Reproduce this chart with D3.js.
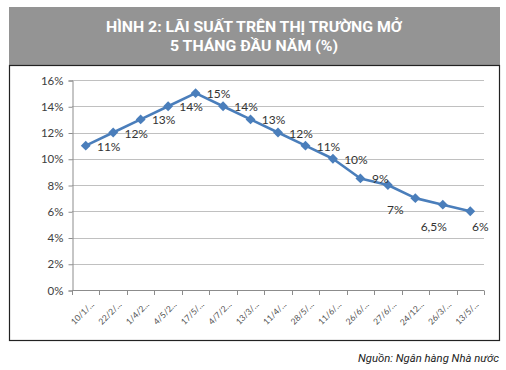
<!DOCTYPE html>
<html>
<head>
<meta charset="utf-8">
<script src="https://cdn.jsdelivr.net/npm/d3@7"></script>
<style>
  body { margin: 0; background: #fff; }
  svg { display: block; }
</style>
</head>
<body>
<div id="chart"></div>
<script>
// categories as printed on the x axis (truncated in the source)
var categories = ["10/1/...", "22/2/...", "1/4/2...", "4/5/2...", "17/5/...", "4/7/2...", "13/3/...",
  "11/4/...", "28/5/...", "11/6/...", "26/6/...", "27/6/...", "24/12...", "26/3/...", "13/5/..."];
// interest rate, %
var rates = [11, 12, 13, 14, 15, 14, 13, 12, 11, 10, 8.5, 8, 7, 6.5, 6];
// data labels as printed (one point has none)
var pointLabels = ["11%", "12%", "13%", "14%", "15%", "14%", "13%", "12%", "11%", "10%", "9%", "", "7%", "6,5%", "6%"];
var yTicks = [0, 2, 4, 6, 8, 10, 12, 14, 16];

var W = 506, H = 370;
var svg = d3.select("#chart").append("svg").attr("width", W).attr("height", H);

// header band
svg.append("rect").attr("x", 9).attr("y", 7).attr("width", 491).attr("height", 58).attr("fill", "#949494");
svg.append("text").text("HÌNH 2: LÃI SUẤT TRÊN THỊ TRƯỜNG MỞ")
  .attr("x", 254).attr("y", 32).attr("text-anchor", "middle")
  .attr("font-family", "Roboto").attr("font-weight", "bold").attr("font-size", 14)
  .attr("textLength", 296).attr("lengthAdjust", "spacingAndGlyphs")
  .attr("fill", "white");
svg.append("text").text("5 THÁNG ĐẦU NĂM (%)")
  .attr("x", 254).attr("y", 51).attr("text-anchor", "middle")
  .attr("font-family", "Roboto").attr("font-weight", "bold").attr("font-size", 14)
  .attr("textLength", 168).attr("lengthAdjust", "spacingAndGlyphs")
  .attr("fill", "white");

// chart frame
svg.append("rect").attr("x", 9.5).attr("y", 65.5).attr("width", 490).attr("height", 275)
  .attr("fill", "white").attr("stroke", "#222").attr("stroke-width", 1.2);

var x = d3.scaleBand().domain(categories).range([72, 484]);
var y = d3.scaleLinear().domain([0, 16]).range([290, 80]);

// gridlines
svg.append("g").selectAll("line").data(yTicks.slice(1)).enter().append("line")
  .attr("x1", 72).attr("x2", 484)
  .attr("y1", d => Math.round(y(d)) + 0.5).attr("y2", d => Math.round(y(d)) + 0.5)
  .attr("stroke", "#c0c0c0").attr("stroke-width", 1);

// y axis
var yAxis = svg.append("g").attr("transform", "translate(72.5,0.5)")
  .call(d3.axisLeft(y).tickValues(yTicks).tickSize(4).tickFormat(d => d + "%"));
yAxis.select(".domain").attr("stroke", "#8c8c8c");
yAxis.selectAll(".tick line").attr("stroke", "#8c8c8c");
yAxis.selectAll(".tick text").attr("font-family", "Lato").attr("font-size", 11.5)
  .attr("fill", "#404040").attr("x", -9);

// x axis with ticks between categories
var xg = svg.append("g");
xg.append("line").attr("x1", 72).attr("x2", 484).attr("y1", 290.5).attr("y2", 290.5)
  .attr("stroke", "#8c8c8c");
var bounds = categories.map(d => x(d)).concat([x.range()[1]]);
xg.selectAll("line.tk").data(bounds).enter().append("line").attr("class", "tk")
  .attr("x1", d => Math.round(d) + 0.5).attr("x2", d => Math.round(d) + 0.5)
  .attr("y1", 290.5).attr("y2", 295)
  .attr("stroke", "#8c8c8c");
xg.selectAll("text").data(categories).enter().append("text")
  .text(d => d)
  .attr("transform", d => "translate(" + (x(d) + x.bandwidth() / 2 + 9) + ",305) rotate(-45)")
  .attr("text-anchor", "end")
  .attr("font-family", "Lato").attr("font-size", 8.5).attr("fill", "#505050");

// series line
var line = d3.line()
  .x((d, i) => x(categories[i]) + x.bandwidth() / 2)
  .y(d => y(d));
svg.append("path").datum(rates).attr("d", line)
  .attr("fill", "none").attr("stroke", "#4a7ebb").attr("stroke-width", 2.6)
  .attr("stroke-linejoin", "round");

svg.append("g").selectAll("path").data(rates).enter().append("path")
  .attr("d", d3.symbol().type(d3.symbolDiamond2).size(62))
  .attr("transform", (d, i) => "translate(" + (x(categories[i]) + x.bandwidth() / 2) + "," + y(d) + ")")
  .attr("fill", "#4a7ebb");

// data labels (a few were moved by hand in the source)
function labelOffset(i) {
  if (i === 10) return [20, 5];
  if (i === 12) return [-20, 16];
  if (i === 13) return [-9, 26];
  if (i === 14) return [10, 20];
  return [23, 5];
}
svg.append("g").selectAll("text").data(rates).enter().append("text")
  .text((d, i) => pointLabels[i])
  .attr("x", (d, i) => x(categories[i]) + x.bandwidth() / 2 + labelOffset(i)[0])
  .attr("y", (d, i) => y(d) + labelOffset(i)[1])
  .attr("text-anchor", "middle")
  .attr("font-family", "Lato").attr("font-size", 12).attr("fill", "#333");

// source
svg.append("text").text("Nguồn: Ngân hàng Nhà nước")
  .attr("x", 499).attr("y", 362).attr("text-anchor", "end")
  .attr("font-family", "Roboto").attr("font-style", "italic").attr("font-size", 11.5)
  .attr("textLength", 141).attr("lengthAdjust", "spacingAndGlyphs")
  .attr("fill", "#222");
</script>
</body>
</html>
